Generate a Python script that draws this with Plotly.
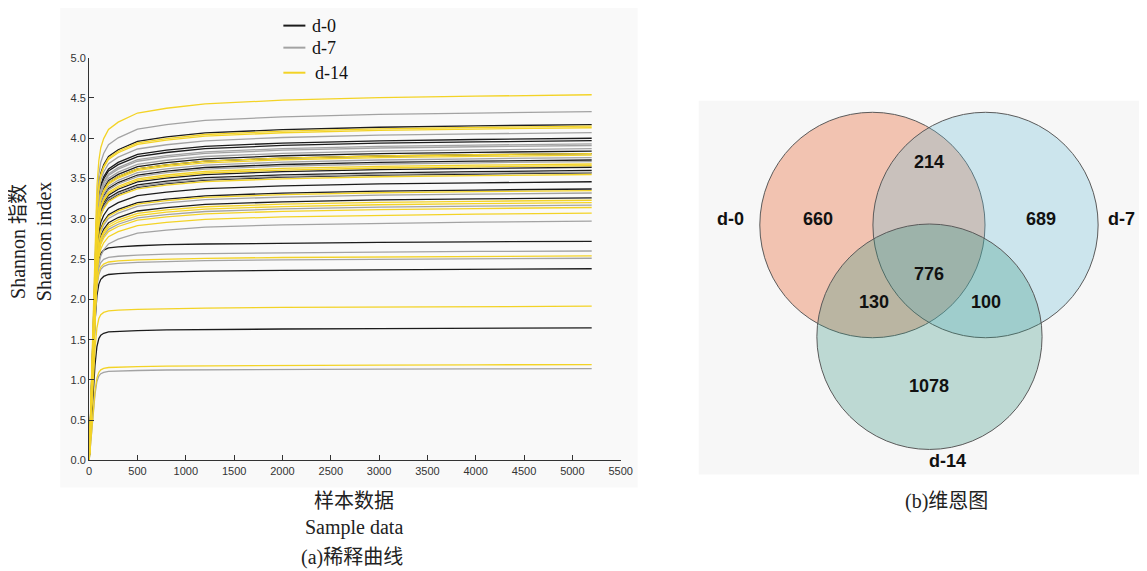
import plotly.graph_objects as go

# ---------------- data ----------------
# sequencing depth (sample data) at which the rarefaction curves were read
depth = [0, 20, 40, 60, 80, 100, 120, 150, 200, 300, 500, 800, 1200, 2000, 3000, 4000, 5200]
# relative Shannon index (share of the final value)
frac_high = [0, 0.20, 0.42, 0.62, 0.75, 0.82, 0.855, 0.88, 0.905, 0.925, 0.95, 0.963, 0.975, 0.985, 0.992, 0.996, 1.0]
frac_low = [0, 0.25, 0.50, 0.72, 0.86, 0.92, 0.945, 0.96, 0.97, 0.975, 0.98, 0.985, 0.988, 0.992, 0.995, 0.998, 1.0]

# final Shannon index of every sample, by group
d0_end = [4.17, 4.00, 3.97, 3.84, 3.81, 3.73, 3.64, 3.60, 3.57, 3.46, 3.37, 3.26, 2.72, 2.38, 1.645]
d7_end = [4.33, 4.07, 3.93, 3.91, 3.87, 3.76, 3.71, 3.58, 3.32, 3.17, 2.97, 2.60, 2.51, 1.14]
d14_end = [4.54, 4.15, 4.13, 3.81, 3.79, 3.68, 3.66, 3.55, 3.35, 3.23, 3.20, 3.14, 3.07, 2.54, 1.915, 1.19]

groups = ["d-0", "d-7", "d-14"]
x_ticks = [0, 500, 1000, 1500, 2000, 2500, 3000, 3500, 4000, 4500, 5000, 5500]
y_ticks = [0.0, 0.5, 1.0, 1.5, 2.0, 2.5, 3.0, 3.5, 4.0, 4.5, 5.0]

# Venn region counts
venn_regions = ["d-0 only", "d-0&d-7", "d-7 only", "d-0&d-14", "all", "d-7&d-14", "d-14 only"]
venn_counts = [660, 214, 689, 130, 776, 100, 1078]

# ---------------- styling / layout ----------------
W, H = 1147, 571
BODY = 8                 # page body margin
SX, SY = 0.986, 0.977    # observed page->picture scale
AX, AY = 3.0, 5.6        # observed page->picture shift
line_colors = {"d-0": "#1c1c1c", "d-7": "#a3a3a3", "d-14": "#f3d326"}
serif = "Liberation Serif, Noto Sans CJK SC, serif"
sans = "Liberation Sans, Arial, sans-serif"


def fx(px):
    return ((px - AX) / SX - BODY) / W


def fy(py):
    return 1 - ((py - AY) / SY - BODY) / H


fig = go.Figure()

for name, ends in zip(groups, [d0_end, d7_end, d14_end]):
    for v in ends:
        fr = frac_high if v >= 2.8 else frac_low
        fig.add_trace(go.Scatter(
            x=depth, y=[v * f for f in fr], mode="lines",
            line=dict(color=line_colors[name], width=1.3),
            name=name, showlegend=False, hoverinfo="skip",
            xaxis="x", yaxis="y"))

shapes = []
# panel backgrounds (paper, below everything)
shapes.append(dict(type="rect", xref="paper", yref="paper", x0=fx(60), x1=fx(637), y0=fy(486), y1=fy(5),
                   fillcolor="#f9f9f9", line=dict(width=0), layer="below"))
shapes.append(dict(type="rect", xref="paper", yref="paper", x0=fx(698), x1=fx(1160), y0=fy(473), y1=fy(100),
                   fillcolor="#f7f7f7", line=dict(width=0), layer="below"))

# manual legend
leg_y = [25, 47, 72]
annotations = []
for name, ly in zip(groups, leg_y):
    shapes.append(dict(type="line", xref="paper", yref="paper", x0=fx(283), x1=fx(305), y0=fy(ly), y1=fy(ly),
                       line=dict(color=line_colors[name], width=2)))
    annotations.append(dict(xref="paper", yref="paper", x=fx(310 if name != "d-14" else 313), y=fy(ly),
                            text=name, showarrow=False, xanchor="left", yanchor="middle",
                            font=dict(family=serif, size=18, color="#111")))

# Venn circles
venn_fill = {"d-0": "rgba(231,75,15,0.30)", "d-7": "rgba(105,188,215,0.30)", "d-14": "rgba(55,148,128,0.30)"}
venn_center = {"d-0": (871.5, 224), "d-7": (984.5, 224), "d-14": (928.5, 335.5)}
R = 112.5
for name in groups:
    cx, cy = venn_center[name]
    shapes.append(dict(type="circle", xref="paper", yref="paper",
                       x0=fx(cx - R), x1=fx(cx + R), y0=fy(cy + R), y1=fy(cy - R),
                       fillcolor=venn_fill[name], line=dict(color="#5a5a5a", width=1)))

venn_label_pos = [(817, 218), (928, 161), (1040, 218), (873, 301), (928, 273), (985, 301), (928, 385)]
for (px, py), c in zip(venn_label_pos, venn_counts):
    annotations.append(dict(xref="paper", yref="paper", x=fx(px), y=fy(py), text=str(c), showarrow=False,
                            xanchor="center", yanchor="middle",
                            font=dict(family=sans, size=18, color="#111", weight="bold")))
for name, (px, py) in zip(groups, [(730, 218), (1120, 218), (947, 460)]):
    annotations.append(dict(xref="paper", yref="paper", x=fx(px), y=fy(py), text=name, showarrow=False,
                            xanchor="center", yanchor="middle",
                            font=dict(family=sans, size=18, color="#111", weight="bold")))

# axis titles & captions
cap_font = dict(family=serif, size=20, color="#222")
annotations.append(dict(xref="paper", yref="paper", x=fx(31), y=fy(241), text="Shannon 指数<br>Shannon index",
                        textangle=-90, showarrow=False, xanchor="center", yanchor="middle", font=cap_font))
for txt, px, py in [("样本数据", 354, 499), ("Sample data", 354, 526), ("(a)稀释曲线", 352, 556),
                    ("(b)维恩图", 946, 500)]:
    annotations.append(dict(xref="paper", yref="paper", x=fx(px), y=fy(py), text=txt, showarrow=False,
                            xanchor="center", yanchor="middle", font=cap_font))

axis_common = dict(showline=True, linecolor="#333", linewidth=1.3, ticks="inside", ticklen=5,
                   tickcolor="#333", tickwidth=1.3, showgrid=False, zeroline=False,
                   tickfont=dict(family=sans, size=11, color="#333"))

fig.update_layout(
    width=W, height=H, autosize=False,
    margin=dict(l=0, r=0, t=0, b=0, pad=0),
    paper_bgcolor="white", plot_bgcolor="rgba(0,0,0,0)",
    showlegend=False,
    xaxis=dict(domain=[fx(89), fx(620)], range=[0, 5500], tickvals=x_ticks, anchor="y", **axis_common),
    yaxis=dict(domain=[fy(459), fy(57)], range=[0, 5], tickvals=y_ticks, tickformat=".1f",
               anchor="x", **axis_common),
    shapes=shapes, annotations=annotations,
)

fig.write_html("out.html")
